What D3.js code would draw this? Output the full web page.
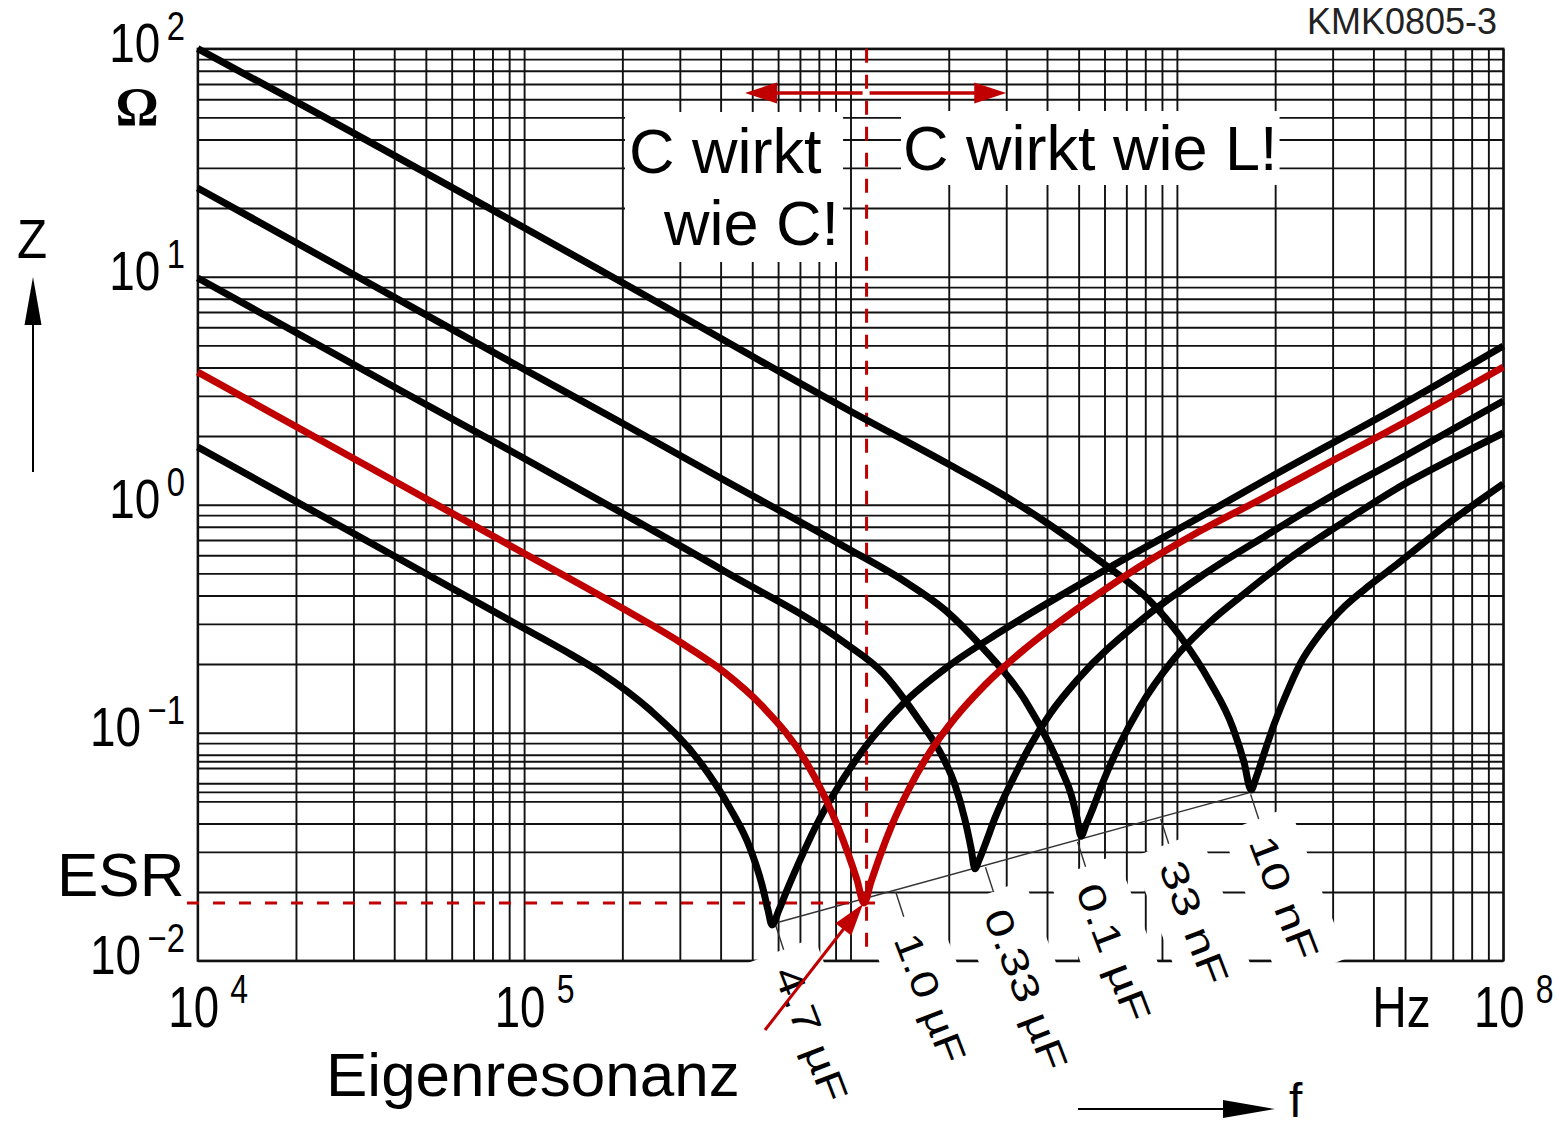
<!DOCTYPE html>
<html><head><meta charset="utf-8"><title>Impedanzverlauf</title>
<script src="https://cdn.jsdelivr.net/npm/d3@7/dist/d3.min.js"></script>
<style>
html,body{margin:0;padding:0;background:#fff;}
svg{display:block;font-family:"Liberation Sans",Arial,Helvetica,sans-serif;}
</style></head><body>
<svg id="chart" width="1558" height="1128"></svg>
<script>
// ---------------- data ----------------
const seriesNames = ["10 nF", "0.1 µF", "0.33 µF", "1.0 µF", "4.7 µF"];

const freq10n = [1e4, 2.0e4, 1.912e5, 9.965e5, 2.018e6, 2.871e6, 4.085e6, 5.812e6, 8.27e6, 1.022e7, 1.263e7, 1.485e7, 1.605e7, 1.687e7, 1.747e7, 1.835e7, 1.956e7, 2.144e7, 2.383e7, 2.744e7, 3.273e7, 3.905e7, 4.692e7, 6.866e7, 1e8];
const z10n    = [100, 58.55, 9.77, 2.576, 1.493, 1.125, 0.8146, 0.5664, 0.3781, 0.2655, 0.1669, 0.1048, 0.0744, 0.0561, 0.0633, 0.0782, 0.1027, 0.1434, 0.2001, 0.271, 0.3594, 0.4444, 0.5438, 0.8395, 1.233];

const freq100n = [1e4, 3.098e4, 9.579e4, 1.995e5, 4.097e5, 9.618e5, 1.458e6, 1.948e6, 2.546e6, 3.424e6, 4.085e6, 4.446e6, 4.737e6, 4.943e6, 5.083e6, 5.266e6, 5.533e6, 5.937e6, 6.6e6, 7.706e6, 9.73e6, 1.263e7, 1.605e7, 2.221e7, 3.391e7, 4.692e7, 6.866e7, 1e8];
const z100n    = [24.49, 9.97, 4.057, 2.282, 1.283, 0.6525, 0.4627, 0.3452, 0.2351, 0.1391, 0.0883, 0.0679, 0.0539, 0.0423, 0.0352, 0.0394, 0.0467, 0.0608, 0.0857, 0.1297, 0.2084, 0.3058, 0.406, 0.5838, 0.8744, 1.172, 1.571, 2.063];

const freq330n = [1e4, 4.051e4, 9.579e4, 1.995e5, 4.097e5, 9.618e5, 1.257e6, 1.621e6, 1.88e6, 2.09e6, 2.243e6, 2.34e6, 2.406e6, 2.475e6, 2.582e6, 2.772e6, 3.146e6, 3.548e6, 4.085e6, 5.012e6, 7.652e6, 1.177e7, 1.888e7, 2.945e7, 4.692e7, 1e8];
const z330n    = [9.87, 3.249, 1.652, 0.9196, 0.512, 0.2473, 0.1827, 0.1137, 0.0823, 0.059, 0.0414, 0.0312, 0.0253, 0.0276, 0.0322, 0.0423, 0.0626, 0.0874, 0.1208, 0.1738, 0.3058, 0.4818, 0.7362, 1.081, 1.555, 2.85];

const freq1u = [1e4, 4.051e4, 9.579e4, 1.995e5, 3.0e5, 4.097e5, 5.395e5, 7.254e5, 9.155e5, 1.047e6, 1.1e6, 1.155e6, 1.231e6, 1.34e6, 1.521e6, 1.752e6, 2.09e6, 2.582e6, 3.305e6, 4.201e6, 5.812e6, 7.652e6, 1.177e7, 1.888e7, 2.945e7, 4.692e7, 1e8];
const z1u    = [3.819, 1.258, 0.633, 0.3523, 0.2498, 0.1845, 0.1297, 0.0759, 0.0386, 0.0226, 0.0179, 0.0221, 0.0288, 0.0394, 0.0578, 0.0823, 0.116, 0.1619, 0.2237, 0.2938, 0.4101, 0.533, 0.7667, 1.092, 1.539, 2.192, 4.018];

const freq4u7 = [1e4, 4.051e4, 9.579e4, 1.335e5, 1.708e5, 2.431e5, 3.458e5, 4.274e5, 4.921e5, 5.357e5, 5.587e5, 5.747e5, 6.037e5, 6.388e5, 7.003e5, 7.784e5, 8.964e5, 1.092e6, 1.458e6, 2.018e6, 2.871e6, 6.022e6, 1.177e7, 1.888e7, 4.692e7, 1e8];
const z4u7    = [1.791, 0.5898, 0.2967, 0.2281, 0.1845, 0.1258, 0.0744, 0.0467, 0.0312, 0.0215, 0.0167, 0.01434, 0.0167, 0.0204, 0.0276, 0.0382, 0.0549, 0.084, 0.135, 0.1981, 0.2764, 0.5172, 0.8834, 1.296, 2.656, 4.967];

// capacitor value labels along the ESR diagonal
const capLabels    = ["4.7 µF", "1.0 µF", "0.33 µF", "0.1 µF", "33 nF", "10 nF"];
const capLabelFreq = [5.87e5, 1.37e6, 2.58e6, 4.94e6, 8.88e6, 1.675e7];
const capLabelLen  = [142, 136, 170, 145, 130, 130];

// ESR diagonal end points [Hz], [Ohm]
const diagFreq = [5.86e5, 1.66e7];
const diagZ    = [0.0146, 0.0545];

// axes
const xTickVals = [1e4, 1e5, 1e8];
const xTickExps = ["4", "5", "8"];
const yTickVals = [1e2, 1e1, 1e0, 1e-1, 1e-2];
const yTickExps = ["2", "1", "0", "\u22121", "\u22122"];
const yExtraGrid = [0.075, 0.055];

// annotations
const resonanceFreq = 1.12e6;
const esrValue = 0.0179;
const arrowZ = 64;
const arrowFreqs = [4.75e5, 3.0e6];

// ---------------- drawing ----------------
const RED = "#c00000";
const L = 197.7, R = 1503.3, T = 48.7, B = 960.7;
const svg = d3.select("#chart");
const x = d3.scaleLog().domain([1e4, 1e8]).range([L, R]);
const y = d3.scaleLog().domain([1e-2, 1e2]).range([B, T]);

// grid via axes
const gGrid = svg.append("g");
gGrid.append("g").attr("transform", `translate(0,${B})`)
  .call(d3.axisBottom(x).tickValues(x.ticks()).tickSize(-(B - T)).tickFormat(""))
  .call(g => g.select(".domain").remove());
gGrid.append("g").attr("transform", `translate(${L},0)`)
  .call(d3.axisLeft(y).tickValues(y.ticks().concat(yExtraGrid)).tickSize(-(R - L)).tickFormat(""))
  .call(g => g.select(".domain").remove());
gGrid.selectAll("line").attr("stroke", "#111").attr("stroke-width", 1.9);
gGrid.append("rect").attr("x", L).attr("y", T).attr("width", R - L).attr("height", B - T)
  .attr("fill", "none").attr("stroke", "#111").attr("stroke-width", 2.2);

const gBoxes = svg.append("g");
const gDiag = svg.append("g");
const gDash = svg.append("g");
const gCurves = svg.append("g");
const gText = svg.append("g");
const gArrows = svg.append("g");

// ---- text blocks with white boxes ----
function bigText(txt, xx, yy) {
  return gText.append("text").attr("x", xx).attr("y", yy).attr("font-size", 63).attr("fill", "#000").text(txt);
}
const t1 = bigText("C wirkt", 629, 173);
const t2 = bigText("wie C!", 664, 245);
const t3 = bigText("C wirkt wie L!", 903, 170);
function boxAround(nodes, pad) {
  let x0 = 1e9, y0 = 1e9, x1 = -1e9, y1 = -1e9;
  nodes.forEach(n => { const b = n.node().getBBox(); x0 = Math.min(x0, b.x); y0 = Math.min(y0, b.y); x1 = Math.max(x1, b.x + b.width); y1 = Math.max(y1, b.y + b.height); });
  gBoxes.append("rect").attr("x", x0 - pad).attr("y", y0 - pad).attr("width", x1 - x0 + 2 * pad).attr("height", y1 - y0 + 2 * pad).attr("fill", "#fff");
}
boxAround([t1, t2], 4);
boxAround([t3], 2);

// ---- ESR diagonal, ticks, rotated labels ----
const dx0 = x(diagFreq[0]), dy0 = y(diagZ[0]), dx1 = x(diagFreq[1]), dy1 = y(diagZ[1]);
gDiag.append("line").attr("x1", dx0).attr("y1", dy0).attr("x2", dx1).attr("y2", dy1)
  .attr("stroke", "#333").attr("stroke-width", 1.4);
const ANG = 69, TICKANG = 72;
capLabels.forEach((lab, i) => {
  const px = x(capLabelFreq[i]);
  const py = dy0 + (px - dx0) * (dy1 - dy0) / (dx1 - dx0);
  const ta = TICKANG * Math.PI / 180;
  gDiag.append("line").attr("x1", px + 2 * Math.cos(ta)).attr("y1", py + 2 * Math.sin(ta))
    .attr("x2", px + 28 * Math.cos(ta)).attr("y2", py + 28 * Math.sin(ta))
    .attr("stroke", "#333").attr("stroke-width", 1.4);
  const sa = 77 * Math.PI / 180;
  const sx = px + 46 * Math.cos(sa), sy = py + 46 * Math.sin(sa);
  gBoxes.append("rect").attr("transform", `translate(${sx},${sy}) rotate(${ANG})`)
    .attr("x", -18).attr("y", -38).attr("width", capLabelLen[i] + 32).attr("height", 72).attr("fill", "#fff");
  gText.append("text").attr("transform", `translate(${sx},${sy}) rotate(${ANG})`)
    .attr("dominant-baseline", "central").attr("font-size", 38)
    .attr("textLength", capLabelLen[i]).attr("lengthAdjust", "spacingAndGlyphs")
    .text(lab);
});

// ---- dashed red reference lines ----
const xr = x(resonanceFreq), ye = y(esrValue);
gDash.append("line").attr("x1", xr).attr("x2", xr).attr("y1", T).attr("y2", 955)
  .attr("stroke", RED).attr("stroke-width", 3).attr("stroke-dasharray", "14,12");
gDash.append("line").attr("x1", 187).attr("x2", xr + 11).attr("y1", ye).attr("y2", ye)
  .attr("stroke", RED).attr("stroke-width", 3).attr("stroke-dasharray", "12,14");

// ---- curves ----
const line = d3.line().x(d => x(d[0])).y(d => y(d[1])).curve(d3.curveMonotoneX);
const blackSeries = [[freq10n, z10n], [freq100n, z100n], [freq330n, z330n], [freq4u7, z4u7]];
blackSeries.forEach(([fs, zs]) => {
  gCurves.append("path").datum(d3.zip(fs, zs)).attr("d", line)
    .attr("fill", "none").attr("stroke", "#000").attr("stroke-width", 7)
    .attr("stroke-linejoin", "round").attr("stroke-linecap", "butt");
});
gCurves.append("path").datum(d3.zip(freq1u, z1u)).attr("d", line)
  .attr("fill", "none").attr("stroke", RED).attr("stroke-width", 7)
  .attr("stroke-linejoin", "round");

// ---- axis labels (powers of ten) ----
function powLabel(expStr, fs, sfs, sxs, supDy, gap) {
  const grp = gText.append("g");
  const inner = grp.append("g").attr("transform", `scale(${sxs},1)`);
  const a = inner.append("text").attr("font-size", fs).text("10");
  const w1 = a.node().getComputedTextLength();
  const b = inner.append("text").attr("font-size", sfs).attr("x", w1 + gap).attr("y", supDy).text(expStr);
  const w2 = b.node().getComputedTextLength();
  return { grp, w1: w1 * sxs, total: (w1 + gap + w2) * sxs };
}
yTickVals.forEach((v, i) => {
  const p = powLabel(yTickExps[i], 56, 40, 0.82, -22, 8);
  p.grp.attr("transform", `translate(${185 - p.total},${y(v) + 13})`);
});
xTickVals.forEach((v, i) => {
  const p = powLabel(xTickExps[i], 57, 40, 0.8, -24, 14);
  p.grp.attr("transform", `translate(${x(v) - 4 - p.w1 / 2},${1027})`);
});
gText.append("text").attr("transform", `translate(${x(1e8) - 131},1027) scale(0.84,1)`).attr("font-size", 57).text("Hz");
gText.append("text").attr("transform", `translate(17,258) scale(0.88,1)`).attr("font-size", 56).text("Z");
gText.append("text").attr("x", 1289).attr("y", 1117).attr("font-size", 48).text("f");
gText.append("text").attr("x", 137).attr("y", 125).attr("text-anchor", "middle")
  .attr("font-family", "'Liberation Serif','Times New Roman',serif").attr("font-weight", "bold")
  .attr("font-size", 54).text("\u03A9");
gText.append("text").attr("x", 1497).attr("y", 34).attr("text-anchor", "end")
  .attr("font-size", 36).attr("fill", "#222").text("KMK0805-3");
gText.append("text").attr("x", 57).attr("y", 896).attr("font-size", 62).text("ESR");
gText.append("text").attr("x", 326).attr("y", 1096).attr("font-size", 62).text("Eigenresonanz");

// ---- arrows ----
function head(g, tipX, tipY, ang, len, half, color) {
  const c = Math.cos(ang), s = Math.sin(ang);
  const bx = tipX - len * c, by = tipY - len * s;
  g.append("path").attr("d", `M${tipX},${tipY}L${bx - half * s},${by + half * c}L${bx + half * s},${by - half * c}Z`).attr("fill", color);
}
// Z axis arrow (up)
gArrows.append("line").attr("x1", 33).attr("x2", 33).attr("y1", 472).attr("y2", 320).attr("stroke", "#000").attr("stroke-width", 2);
head(gArrows, 33, 277, -Math.PI / 2, 48, 8.5, "#000");
// f axis arrow (right)
gArrows.append("line").attr("x1", 1078).attr("x2", 1230).attr("y1", 1109).attr("y2", 1109).attr("stroke", "#000").attr("stroke-width", 2);
head(gArrows, 1275, 1109, 0, 52, 9, "#000");
// red double arrow
const ya = y(arrowZ);
const xl = x(arrowFreqs[0]), xrr = x(arrowFreqs[1]);
gArrows.append("line").attr("x1", xl + 25).attr("x2", xr - 4).attr("y1", ya).attr("y2", ya).attr("stroke", RED).attr("stroke-width", 3.5);
gArrows.append("line").attr("x1", xr + 3).attr("x2", xrr - 25).attr("y1", ya).attr("y2", ya).attr("stroke", RED).attr("stroke-width", 3.5);
head(gArrows, xl, ya, Math.PI, 32, 10.5, RED);
head(gArrows, xrr, ya, 0, 32, 10.5, RED);
// pointer to self resonance (minimum of the 1.0 µF curve)
const iMin = d3.minIndex(z1u);
const tipX = x(freq1u[iMin]) - 1, tipY = y(z1u[iMin]) + 1;
const sX = 765, sY = 1030;
const pang = Math.atan2(tipY - sY, tipX - sX);
gArrows.append("line").attr("x1", sX).attr("y1", sY).attr("x2", tipX - 25 * Math.cos(pang)).attr("y2", tipY - 25 * Math.sin(pang))
  .attr("stroke", RED).attr("stroke-width", 3);
head(gArrows, tipX, tipY, pang, 32, 10, RED);
</script>
</body></html>
